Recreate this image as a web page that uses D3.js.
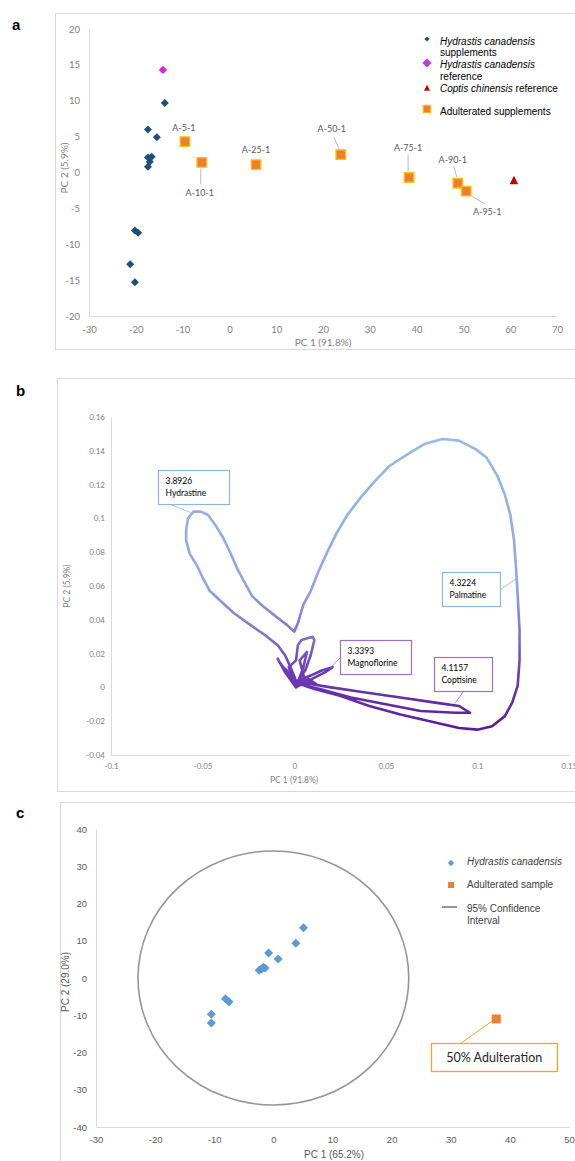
<!DOCTYPE html>
<html>
<head>
<meta charset="utf-8">
<script src="https://cdn.jsdelivr.net/npm/d3@7"></script>
<style>
body { margin: 0; background: #fff; }
svg { display: block; }
</style>
</head>
<body>
<svg></svg>
<script>
// panel a - PCA scores of supplements
const suppPC1 = [-13.8, -17.4, -15.5, -17.4, -16.6, -17.0, -17.4, -20.2, -19.5, -21.2, -20.2]
const suppPC2 = [9.7, 6.0, 4.9, 2.1, 2.2, 1.5, 0.8, -8.1, -8.4, -12.8, -15.3]
const hcRefPC = [-14.2, 14.3]
const ccRefPC = [60.8, -1.1]
const adultNames = ["A-5-1", "A-10-1", "A-25-1", "A-50-1", "A-75-1", "A-90-1", "A-95-1"]
const adultPC1 = [-9.5, -5.9, 5.7, 23.8, 38.4, 48.8, 50.6]
const adultPC2 = [4.3, 1.4, 1.1, 2.5, -0.7, -1.5, -2.6]
const aTicksX = [-30, -20, -10, 0, 10, 20, 30, 40, 50, 60, 70]
const aTicksY = [-20, -15, -10, -5, 0, 5, 10, 15, 20]

// panel b - loadings trace (PC1, PC2)
const loadingTrace = [
  [0.001, 0.000], [-0.005, 0.009], [-0.009, 0.017], [-0.008, 0.015], [-0.002, 0.006], [-0.007, 0.013],
  [-0.004, 0.010], [0.000, 0.003], [-0.003, 0.012], [0.001, 0.016],
  [0.002, 0.025], [0.004, 0.028], [0.010, 0.030], [0.011, 0.028], [0.009, 0.019], [0.006, 0.010],
  [0.002, 0.004], [0.009, 0.007], [0.015, 0.010], [0.021, 0.012], [0.017, 0.009], [0.006, 0.003],
  [0.003, 0.016], [0.007, 0.021], [0.005, 0.012], [0.001, 0.000], [0.008, 0.005], [0.012, 0.002],
  [0.004, 0.004], [0.010, 0.003], [0.001, 0.001],
  [0.001, 0.004], [-0.002, 0.012], [-0.005, 0.019], [-0.009, 0.025], [-0.016, 0.031], [-0.024, 0.037],
  [-0.033, 0.044], [-0.040, 0.051], [-0.046, 0.057], [-0.050, 0.065], [-0.053, 0.072], [-0.057, 0.079],
  [-0.059, 0.087], [-0.059, 0.093], [-0.058, 0.100], [-0.055, 0.104], [-0.051, 0.104], [-0.047, 0.102],
  [-0.043, 0.096], [-0.039, 0.089], [-0.035, 0.080], [-0.031, 0.070], [-0.027, 0.062], [-0.023, 0.054],
  [-0.017, 0.048], [-0.010, 0.042], [-0.004, 0.037], [0.000, 0.033],
  [0.002, 0.038], [0.005, 0.049], [0.009, 0.057], [0.013, 0.068], [0.018, 0.080], [0.023, 0.091],
  [0.029, 0.102], [0.036, 0.112], [0.044, 0.122], [0.052, 0.131], [0.062, 0.138], [0.071, 0.144],
  [0.081, 0.147], [0.090, 0.146], [0.099, 0.141], [0.105, 0.136], [0.111, 0.125], [0.115, 0.114],
  [0.118, 0.102], [0.120, 0.087], [0.121, 0.072], [0.122, 0.054], [0.123, 0.034], [0.123, 0.016],
  [0.122, 0.001], [0.119, -0.009], [0.115, -0.017], [0.108, -0.023], [0.100, -0.025], [0.090, -0.024],
  [0.074, -0.020], [0.058, -0.016], [0.041, -0.011], [0.025, -0.005], [0.011, -0.001], [0.003, 0.002],
  [0.003, 0.003], [0.020, 0.000], [0.039, -0.003], [0.058, -0.006], [0.077, -0.009], [0.090, -0.011],
  [0.096, -0.015], [0.088, -0.015], [0.069, -0.014], [0.050, -0.010], [0.031, -0.006], [0.014, -0.001],
  [0.002, 0.002]
]
const peakTimes = ["3.8926", "4.3224", "3.3393", "4.1157"]
const peakNames = ["Hydrastine", "Palmatine", "Magnoflorine", "Coptisine"]
const peakPC1 = [-0.0567, 0.1215, 0.020, 0.0877]
const peakPC2 = [0.1036, 0.0645, 0.0118, -0.0095]
const bTicksX = [-0.1, -0.05, 0, 0.05, 0.1, 0.15]
const bTicksY = [-0.04, -0.02, 0, 0.02, 0.04, 0.06, 0.08, 0.1, 0.12, 0.14, 0.16]

// panel c - PCA with confidence ellipse
const hcPC1 = [5.1, 3.8, -0.8, 0.8, -1.7, -2.4, -1.4, -2.0, -8.1, -7.5, -10.5, -10.5]
const hcPC2 = [13.5, 9.3, 6.7, 5.1, 2.9, 2.1, 2.7, 2.4, -5.6, -6.4, -9.7, -12.1]
const adultSample = [37.7, -11.0]
const ciRadius = [22.9, 34.1]
const cTicksX = [-30, -20, -10, 0, 10, 20, 30, 40, 50]
const cTicksY = [-40, -30, -20, -10, 0, 10, 20, 30, 40]

const svg = d3.select("svg")
    .attr("width", 575)
    .attr("height", 1161)

svg.append("rect").attr("width", 575).attr("height", 1161).attr("fill", "#fff")

const diamond = r => `M0,${-r}L${r},0L0,${r}L${-r},0Z`
const square = s => `M${-s / 2},${-s / 2}h${s}v${s}h${-s}Z`
const triangle = s => `M0,${-s * 0.55}L${s / 2},${s * 0.45}L${-s / 2},${s * 0.45}Z`

function frame(x, y, w, h) {
    svg.append("rect")
        .attr("x", x + 0.5).attr("y", y + 0.5)
        .attr("width", w).attr("height", h)
        .attr("fill", "none")
        .attr("stroke", "#d9d9d9")
}

function panelLabel(t, x, y) {
    svg.append("text").text(t)
        .attr("x", x).attr("y", y)
        .attr("font-family", "Liberation Sans, Arial, sans-serif")
        .attr("font-weight", "bold")
        .attr("font-size", 15)
}

function axes(xs, ys, xt, yt, o) {
    const gx = svg.append("g")
        .attr("transform", `translate(0,${ys.range()[0]})`)
        .call(d3.axisBottom(xs).tickValues(xt).tickSize(0).tickPadding(o.padX).tickFormat(d => String(d)))
    const gy = svg.append("g")
        .attr("transform", `translate(${xs.range()[0]},0)`)
        .call(d3.axisLeft(ys).tickValues(yt).tickSize(0).tickPadding(o.padY).tickFormat(d => String(d)))
    ;[gx, gy].forEach(g => {
        g.select(".domain").attr("stroke", "#d9d9d9")
        g.selectAll("text")
            .attr("fill", o.color)
            .attr("font-family", o.font)
            .attr("font-size", o.size)
    })
}

function axisTitle(t, x, y, rotate, o) {
    svg.append("text").text(t)
        .attr("transform", `translate(${x},${y})` + (rotate ? " rotate(-90)" : ""))
        .attr("text-anchor", "middle")
        .attr("fill", o.color)
        .attr("font-family", o.font)
        .attr("font-size", o.size)
}

frame(55, 13, 540, 336)
frame(57, 378, 540, 413)
frame(60, 802, 540, 380)
panelLabel("a", 12, 30)
panelLabel("b", 16, 396)
panelLabel("c", 16, 818)

// ---------------- panel a ----------------
const xA = d3.scaleLinear().domain([-30, 70]).range([89, 557])
const yA = d3.scaleLinear().domain([-20, 20]).range([316, 29])
const calibri = "Lato, Open Sans, sans-serif"
axes(xA, yA, aTicksX, aTicksY, { padX: 10, padY: 9, color: "#7f7f7f", font: calibri, size: 9.5 })
axisTitle("PC 1 (91.8%)", 323, 346, false, { color: "#7f7f7f", font: calibri, size: 10 })
axisTitle("PC 2 (5.9%)", 68, 168, true, { color: "#7f7f7f", font: calibri, size: 10 })

const gA = svg.append("g")
gA.selectAll(".supp")
    .data(suppPC1)
    .join("path")
    .attr("d", diamond(4))
    .attr("transform", (d, i) => `translate(${xA(d)},${yA(suppPC2[i])})`)
    .attr("fill", "#1f4e79")

gA.append("path")
    .attr("d", diamond(4.2))
    .attr("transform", `translate(${xA(hcRefPC[0])},${yA(hcRefPC[1])})`)
    .attr("fill", "#e020e0")

gA.append("path")
    .attr("d", triangle(8.5))
    .attr("transform", `translate(${xA(ccRefPC[0])},${yA(ccRefPC[1])})`)
    .attr("fill", "#c00000")

// label offsets [dx, dy] from each square, leader [x1,y1,x2,y2] offsets or null
const adultLabelPos = [
    { dx: -1, dy: -14, lead: null },
    { dx: -2, dy: 31, lead: [-1, 22, -1, 6] },
    { dx: 0, dy: -15, lead: null },
    { dx: -9, dy: -26, lead: [-7, -18, -2, -6] },
    { dx: -1, dy: -30, lead: [-1, -23, -1, -6] },
    { dx: -5, dy: -23, lead: [-4, -17, -1, -6] },
    { dx: 21, dy: 21, lead: [4, 4, 19, 13] }
]

adultPC1.forEach((d, i) => {
    const px = xA(d), py = yA(adultPC2[i]), p = adultLabelPos[i]
    if (p.lead) {
        gA.append("line")
            .attr("x1", px + p.lead[0]).attr("y1", py + p.lead[1])
            .attr("x2", px + p.lead[2]).attr("y2", py + p.lead[3])
            .attr("stroke", "#a6a6a6").attr("stroke-width", 0.8)
    }
    gA.append("text").text(adultNames[i])
        .attr("x", px + p.dx).attr("y", py + p.dy + 3)
        .attr("text-anchor", "middle")
        .attr("fill", "#595959")
        .attr("font-family", calibri)
        .attr("font-size", 9)
})

gA.selectAll(".adult")
    .data(adultPC1)
    .join("path")
    .attr("d", square(9.5))
    .attr("transform", (d, i) => `translate(${xA(d)},${yA(adultPC2[i])})`)
    .attr("fill", "#ed7d31")
    .attr("stroke", "#ffc000")
    .attr("stroke-width", 1.3)

// legend a
const arial = "Liberation Sans, Arial, sans-serif"
const legA = svg.append("g").attr("font-family", arial).attr("font-size", 10).attr("fill", "#000")
legA.append("path").attr("d", diamond(2.6)).attr("transform", "translate(427,39)").attr("fill", "#1f4e79")
legA.append("text").attr("x", 440).attr("y", 44.5).attr("font-style", "italic").text("Hydrastis canadensis")
legA.append("text").attr("x", 440).attr("y", 55.5).text("supplements")
legA.append("path").attr("d", diamond(4.6)).attr("transform", "translate(427,63)").attr("fill", "#b93de3")
legA.append("text").attr("x", 440).attr("y", 67.5).attr("font-style", "italic").text(" Hydrastis canadensis")
legA.append("text").attr("x", 440).attr("y", 79.5).text("reference")
legA.append("path").attr("d", triangle(6)).attr("transform", "translate(427,88)").attr("fill", "#c00000")
const ccText = legA.append("text").attr("x", 440).attr("y", 91.5)
ccText.append("tspan").attr("font-style", "italic").text("Coptis chinensis")
ccText.append("tspan").text(" reference")
legA.append("path").attr("d", square(7.5)).attr("transform", "translate(427,109)")
    .attr("fill", "#ed7d31").attr("stroke", "#ffc000").attr("stroke-width", 1.2)
legA.append("text").attr("x", 440).attr("y", 114.5).text("Adulterated supplements")

// ---------------- panel b ----------------
const xB = d3.scaleLinear().domain([-0.1, 0.15]).range([111, 569])
const yB = d3.scaleLinear().domain([-0.04, 0.16]).range([755, 417])
axes(xB, yB, bTicksX, bTicksY, { padX: 8, padY: 6, color: "#7f7f7f", font: calibri, size: 8 })
axisTitle("PC 1 (91.8%)", 294, 783, false, { color: "#7f7f7f", font: calibri, size: 8.5 })
axisTitle("PC 2 (5.9%)", 70, 586, true, { color: "#7f7f7f", font: calibri, size: 8.5 })

const gradStops = [[0.15, "#9ab8ea"], [0.06, "#8ea6e0"], [0.03, "#7d6fcd"], [0.01, "#6d3db6"], [-0.025, "#5a1c96"]]
const grad = svg.append("defs").append("linearGradient")
    .attr("id", "traceGrad")
    .attr("gradientUnits", "userSpaceOnUse")
    .attr("x1", 0).attr("x2", 0)
    .attr("y1", yB(0.15)).attr("y2", yB(-0.025))
grad.selectAll("stop")
    .data(gradStops)
    .join("stop")
    .attr("offset", d => (yB(d[0]) - yB(0.15)) / (yB(-0.025) - yB(0.15)))
    .attr("stop-color", d => d[1])

svg.append("path")
    .datum(loadingTrace)
    .attr("d", d3.line().x(d => xB(d[0])).y(d => yB(d[1])))
    .attr("fill", "none")
    .attr("stroke", "url(#traceGrad)")
    .attr("stroke-width", 2.6)
    .attr("stroke-linejoin", "round")
    .attr("stroke-linecap", "round")

// callout boxes: offset of box from anchor, size, leader start inside box
const peakBoxes = [
    { dx: -32, dy: -42, w: 71, h: 34, lx: 12, ly: 34, color: "#8db4e2" },
    { dx: -75, dy: -6, w: 58, h: 34, lx: 58, ly: 17, color: "#8db4e2" },
    { dx: 9, dy: -27, w: 71, h: 34, lx: 0, ly: 17, color: "#9b6fd0" },
    { dx: -21, dy: -46, w: 58, h: 34, lx: 29, ly: 34, color: "#9b6fd0" }
]
peakNames.forEach((name, i) => {
    const ax = xB(peakPC1[i]), ay = yB(peakPC2[i]), b = peakBoxes[i]
    const bx = Math.round(ax + b.dx) + 0.5, by = Math.round(ay + b.dy) + 0.5
    svg.append("line")
        .attr("x1", bx + b.lx).attr("y1", by + b.ly)
        .attr("x2", ax).attr("y2", ay)
        .attr("stroke", b.color).attr("stroke-width", 0.8)
    svg.append("rect")
        .attr("x", bx).attr("y", by).attr("width", b.w).attr("height", b.h)
        .attr("fill", "#fff").attr("stroke", b.color).attr("stroke-width", 1.2)
    const t = svg.append("text")
        .attr("font-family", calibri).attr("font-size", 8.5).attr("fill", "#000")
    t.append("tspan").attr("x", bx + 7).attr("y", by + 13).text(peakTimes[i])
    t.append("tspan").attr("x", bx + 7).attr("y", by + 25).text(name)
})

// ---------------- panel c ----------------
const xC = d3.scaleLinear().domain([-30, 50]).range([96, 569])
const yC = d3.scaleLinear().domain([-40, 40]).range([1127, 829])
axes(xC, yC, cTicksX, cTicksY, { padX: 9, padY: 9, color: "#595959", font: arial, size: 9.5 })
axisTitle("PC 1 (65.2%)", 334, 1158, false, { color: "#595959", font: arial, size: 10 })
axisTitle("PC 2 (29.0%)", 69, 982, true, { color: "#595959", font: arial, size: 10 })

svg.append("ellipse")
    .attr("cx", xC(0)).attr("cy", yC(0))
    .attr("rx", xC(ciRadius[0]) - xC(0))
    .attr("ry", yC(0) - yC(ciRadius[1]))
    .attr("fill", "none")
    .attr("stroke", "#969696")
    .attr("stroke-width", 1.6)

svg.selectAll(".hc")
    .data(hcPC1)
    .join("path")
    .attr("d", diamond(4.5))
    .attr("transform", (d, i) => `translate(${xC(d)},${yC(hcPC2[i])})`)
    .attr("fill", "#5b9bd5")

const sx = xC(adultSample[0]), sy = yC(adultSample[1])
svg.append("line")
    .attr("x1", sx - 35).attr("y1", sy + 24)
    .attr("x2", sx - 4).attr("y2", sy + 2)
    .attr("stroke", "#f5a32a").attr("stroke-width", 1)
svg.append("rect")
    .attr("x", Math.round(sx - 65) + 0.5).attr("y", Math.round(sy + 24) + 0.5)
    .attr("width", 126).attr("height", 28)
    .attr("fill", "#fff").attr("stroke", "#f5a32a").attr("stroke-width", 1.3)
svg.append("text").text("50% Adulteration")
    .attr("x", sx - 2).attr("y", sy + 43)
    .attr("text-anchor", "middle")
    .attr("font-family", calibri).attr("font-size", 12.5).attr("fill", "#262626")
svg.append("path")
    .attr("d", square(9))
    .attr("transform", `translate(${sx},${sy})`)
    .attr("fill", "#ed7d31")

// legend c
const legC = svg.append("g").attr("font-family", arial).attr("font-size", 10).attr("fill", "#404040")
legC.append("path").attr("d", diamond(3.2)).attr("transform", "translate(451,863)").attr("fill", "#5b9bd5")
legC.append("text").attr("x", 467).attr("y", 864.5).attr("font-style", "italic").text("Hydrastis canadensis")
legC.append("path").attr("d", square(6)).attr("transform", "translate(451,885)").attr("fill", "#ed7d31")
legC.append("text").attr("x", 467).attr("y", 888).text("Adulterated sample")
legC.append("line").attr("x1", 442).attr("x2", 457).attr("y1", 907).attr("y2", 907)
    .attr("stroke", "#969696").attr("stroke-width", 2)
legC.append("text").attr("x", 467).attr("y", 911.5).text("95% Confidence")
legC.append("text").attr("x", 467).attr("y", 923.5).text("Interval")
</script>
</body>
</html>
